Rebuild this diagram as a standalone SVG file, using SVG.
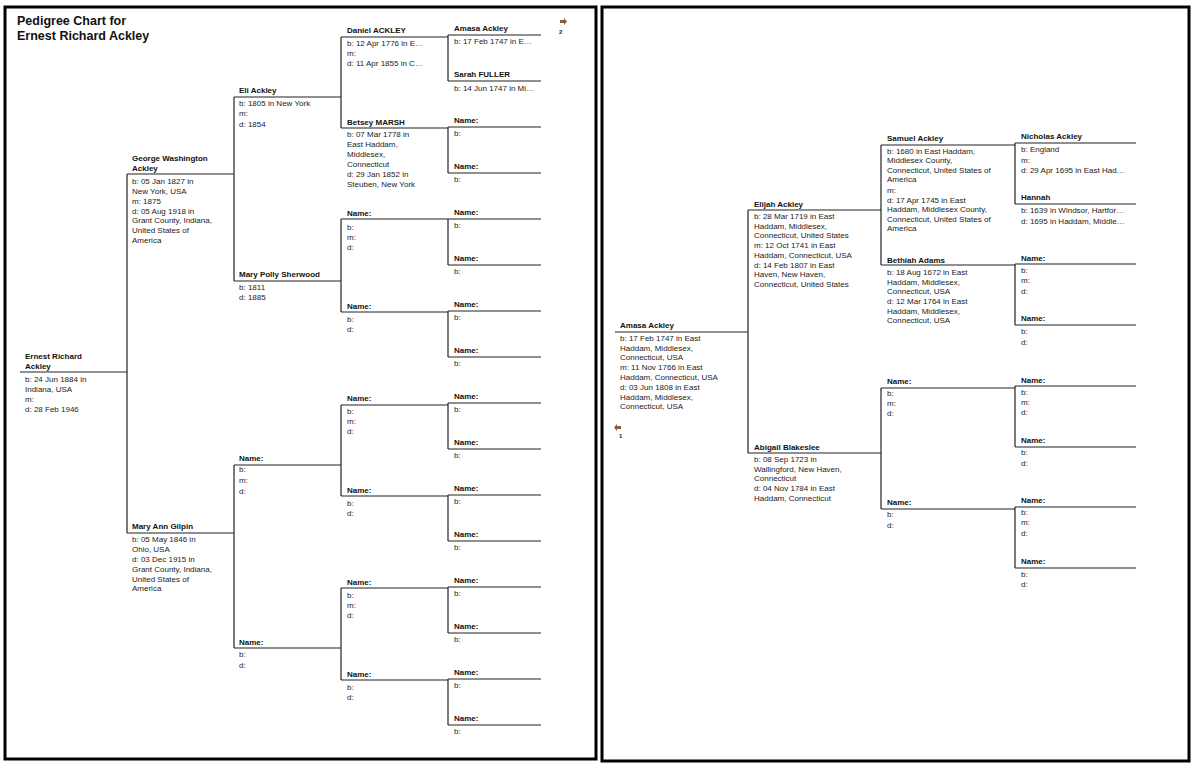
<svg xmlns="http://www.w3.org/2000/svg" width="1197" height="767" viewBox="0 0 1197 767">
<style>
text{font-family:"Liberation Sans",Arial,sans-serif;font-size:8px;fill:#222}
.n{font-weight:bold;fill:#111}
.t{font-weight:bold;font-size:12.5px;fill:#111}
.c line{stroke:#222;stroke-width:1.2}
.pg{fill:#fff;stroke:#000;stroke-width:3}
.ar{fill:#8a5a3a}
</style>
<rect width="1197" height="767" fill="#fff"/>
<rect class="pg" x="5" y="7" width="591" height="752"/>
<rect class="pg" x="602" y="7" width="587" height="754"/>
<text class="t" x="17" y="25">Pedigree Chart for</text>
<text class="t" x="17" y="40">Ernest Richard Ackley</text>
<path class="ar" d="M560 20h4v-2l3 3.5-3 3.5v-2h-4z"/><text x="559" y="34" style="font-size:6px;font-weight:bold">2</text>
<path class="ar" d="M621 426h-4v-2l-3 3.5 3 3.5v-2h4z"/><text x="619" y="438" style="font-size:6px;font-weight:bold">1</text>
<g class="c" id="connectors">
<line x1="20" y1="372" x2="127" y2="372"/><line x1="127" y1="174" x2="127" y2="533"/>
<line x1="127" y1="174" x2="234" y2="174"/><line x1="127" y1="533" x2="234" y2="533"/>
<line x1="234" y1="97" x2="234" y2="281"/><line x1="234" y1="465" x2="234" y2="648"/>
<line x1="234" y1="97" x2="341" y2="97"/><line x1="234" y1="281" x2="341" y2="281"/><line x1="234" y1="465" x2="341" y2="465"/><line x1="234" y1="648" x2="341" y2="648"/>
<line x1="341" y1="37" x2="341" y2="128"/><line x1="341" y1="219" x2="341" y2="312"/><line x1="341" y1="405" x2="341" y2="496"/><line x1="341" y1="588" x2="341" y2="680"/>
<line x1="341" y1="37" x2="448" y2="37"/><line x1="341" y1="128" x2="448" y2="128"/><line x1="341" y1="219" x2="448" y2="219"/><line x1="341" y1="312" x2="448" y2="312"/>
<line x1="341" y1="405" x2="448" y2="405"/><line x1="341" y1="496" x2="448" y2="496"/><line x1="341" y1="588" x2="448" y2="588"/><line x1="341" y1="680" x2="448" y2="680"/>
<line x1="448" y1="35" x2="448" y2="81"/><line x1="448" y1="127" x2="448" y2="173"/><line x1="448" y1="219" x2="448" y2="265"/><line x1="448" y1="311" x2="448" y2="357"/>
<line x1="448" y1="403" x2="448" y2="449"/><line x1="448" y1="495" x2="448" y2="541"/><line x1="448" y1="587" x2="448" y2="633"/><line x1="448" y1="679" x2="448" y2="725"/>
<line x1="448" y1="35" x2="541" y2="35"/><line x1="448" y1="81" x2="541" y2="81"/><line x1="448" y1="127" x2="541" y2="127"/><line x1="448" y1="173" x2="541" y2="173"/>
<line x1="448" y1="219" x2="541" y2="219"/><line x1="448" y1="265" x2="541" y2="265"/><line x1="448" y1="311" x2="541" y2="311"/><line x1="448" y1="357" x2="541" y2="357"/>
<line x1="448" y1="403" x2="541" y2="403"/><line x1="448" y1="449" x2="541" y2="449"/><line x1="448" y1="495" x2="541" y2="495"/><line x1="448" y1="541" x2="541" y2="541"/>
<line x1="448" y1="587" x2="541" y2="587"/><line x1="448" y1="633" x2="541" y2="633"/><line x1="448" y1="679" x2="541" y2="679"/><line x1="448" y1="725" x2="541" y2="725"/>
<line x1="615" y1="332" x2="748" y2="332"/><line x1="748" y1="210" x2="748" y2="453"/>
<line x1="748" y1="210" x2="881" y2="210"/><line x1="748" y1="453" x2="881" y2="453"/>
<line x1="881" y1="145" x2="881" y2="265"/><line x1="881" y1="388" x2="881" y2="509"/>
<line x1="881" y1="145" x2="1015" y2="145"/><line x1="881" y1="265" x2="1015" y2="265"/><line x1="881" y1="388" x2="1015" y2="388"/><line x1="881" y1="509" x2="1015" y2="509"/>
<line x1="1015" y1="143" x2="1015" y2="204"/><line x1="1015" y1="264" x2="1015" y2="325"/><line x1="1015" y1="386" x2="1015" y2="447"/><line x1="1015" y1="507" x2="1015" y2="568"/>
<line x1="1015" y1="143" x2="1136" y2="143"/><line x1="1015" y1="204" x2="1136" y2="204"/><line x1="1015" y1="264" x2="1136" y2="264"/><line x1="1015" y1="325" x2="1136" y2="325"/>
<line x1="1015" y1="386" x2="1136" y2="386"/><line x1="1015" y1="447" x2="1136" y2="447"/><line x1="1015" y1="507" x2="1136" y2="507"/><line x1="1015" y1="568" x2="1136" y2="568"/>
</g>
<g id="ernest"><text class="n" x="25" y="359">Ernest Richard</text><text class="n" x="25" y="369">Ackley</text><text x="25" y="382">b: 24 Jun 1884 in</text><text x="25" y="392">Indiana, USA</text><text x="25" y="402">m:</text><text x="25" y="412">d: 28 Feb 1946</text></g>
<g id="george"><text class="n" x="132" y="161">George Washington</text><text class="n" x="132" y="171">Ackley</text><text x="132" y="184">b: 05 Jan 1827 in</text><text x="132" y="194">New York, USA</text><text x="132" y="204">m: 1875</text><text x="132" y="214">d: 05 Aug 1918 in</text><text x="132" y="223">Grant County, Indiana,</text><text x="132" y="233">United States of</text><text x="132" y="243">America</text></g>
<g id="maryann"><text class="n" x="132" y="529">Mary Ann Gilpin</text><text x="132" y="542">b: 05 May 1846 in</text><text x="132" y="552">Ohio, USA</text><text x="132" y="562">d: 03 Dec 1915 in</text><text x="132" y="572">Grant County, Indiana,</text><text x="132" y="582">United States of</text><text x="132" y="591">America</text></g>
<g id="eli"><text class="n" x="239" y="93">Eli Ackley</text><text x="239" y="106">b: 1805 in New York</text><text x="239" y="116">m:</text><text x="239" y="127">d: 1854</text></g>
<g id="marypolly"><text class="n" x="239" y="277">Mary Polly Sherwood</text><text x="239" y="290">b: 1811</text><text x="239" y="300">d: 1885</text></g>
<g id="p3a"><text class="n" x="239" y="461">Name:</text><text x="239" y="472">b:</text><text x="239" y="483">m:</text><text x="239" y="494">d:</text></g>
<g id="p3b"><text class="n" x="239" y="645">Name:</text><text x="239" y="657">b:</text><text x="239" y="668">d:</text></g>
<g id="daniel"><text class="n" x="347" y="33">Daniel ACKLEY</text><text x="347" y="46">b: 12 Apr 1776 in E…</text><text x="347" y="56">m:</text><text x="347" y="66">d: 11 Apr 1855 in C…</text></g>
<g id="betsey"><text class="n" x="347" y="125">Betsey MARSH</text><text x="347" y="137">b: 07 Mar 1778 in</text><text x="347" y="147">East Haddam,</text><text x="347" y="157">Middlesex,</text><text x="347" y="167">Connecticut</text><text x="347" y="177">d: 29 Jan 1852 in</text><text x="347" y="187">Steuben, New York</text></g>
<g id="g4c"><text class="n" x="347" y="216">Name:</text><text x="347" y="230">b:</text><text x="347" y="240">m:</text><text x="347" y="250">d:</text></g>
<g id="g4d"><text class="n" x="347" y="309">Name:</text><text x="347" y="322">b:</text><text x="347" y="332">d:</text></g>
<g id="g4e"><text class="n" x="347" y="401">Name:</text><text x="347" y="414">b:</text><text x="347" y="424">m:</text><text x="347" y="434">d:</text></g>
<g id="g4f"><text class="n" x="347" y="493">Name:</text><text x="347" y="506">b:</text><text x="347" y="516">d:</text></g>
<g id="g4g"><text class="n" x="347" y="585">Name:</text><text x="347" y="598">b:</text><text x="347" y="608">m:</text><text x="347" y="618">d:</text></g>
<g id="g4h"><text class="n" x="347" y="677">Name:</text><text x="347" y="690">b:</text><text x="347" y="700">d:</text></g>
<g id="amasa5"><text class="n" x="454" y="31">Amasa Ackley</text><text x="454" y="44">b: 17 Feb 1747 in E…</text></g>
<g id="sarah"><text class="n" x="454" y="77">Sarah FULLER</text><text x="454" y="91">b: 14 Jun 1747 in Mi…</text></g>
<g id="g5c"><text class="n" x="454" y="123">Name:</text><text x="454" y="136">b:</text></g>
<g id="g5d"><text class="n" x="454" y="169">Name:</text><text x="454" y="182">b:</text></g>
<g id="g5e"><text class="n" x="454" y="215">Name:</text><text x="454" y="228">b:</text></g>
<g id="g5f"><text class="n" x="454" y="261">Name:</text><text x="454" y="274">b:</text></g>
<g id="g5g"><text class="n" x="454" y="307">Name:</text><text x="454" y="320">b:</text></g>
<g id="g5h"><text class="n" x="454" y="353">Name:</text><text x="454" y="366">b:</text></g>
<g id="g5i"><text class="n" x="454" y="399">Name:</text><text x="454" y="412">b:</text></g>
<g id="g5j"><text class="n" x="454" y="445">Name:</text><text x="454" y="458">b:</text></g>
<g id="g5k"><text class="n" x="454" y="491">Name:</text><text x="454" y="504">b:</text></g>
<g id="g5l"><text class="n" x="454" y="537">Name:</text><text x="454" y="550">b:</text></g>
<g id="g5m"><text class="n" x="454" y="583">Name:</text><text x="454" y="596">b:</text></g>
<g id="g5n"><text class="n" x="454" y="629">Name:</text><text x="454" y="642">b:</text></g>
<g id="g5o"><text class="n" x="454" y="675">Name:</text><text x="454" y="688">b:</text></g>
<g id="g5p"><text class="n" x="454" y="721">Name:</text><text x="454" y="734">b:</text></g>
<g id="amasa"><text class="n" x="620" y="328">Amasa Ackley</text><text x="620" y="341">b: 17 Feb 1747 in East</text><text x="620" y="351">Haddam, Middlesex,</text><text x="620" y="360">Connecticut, USA</text><text x="620" y="370">m: 11 Nov 1766 in East</text><text x="620" y="380">Haddam, Connecticut, USA</text><text x="620" y="390">d: 03 Jun 1808 in East</text><text x="620" y="400">Haddam, Middlesex,</text><text x="620" y="409">Connecticut, USA</text></g>
<g id="elijah"><text class="n" x="754" y="207">Elijah Ackley</text><text x="754" y="219">b: 28 Mar 1719 in East</text><text x="754" y="229">Haddam, Middlesex,</text><text x="754" y="238">Connecticut, United States</text><text x="754" y="248">m: 12 Oct 1741 in East</text><text x="754" y="258">Haddam, Connecticut, USA</text><text x="754" y="268">d: 14 Feb 1807 in East</text><text x="754" y="277">Haven, New Haven,</text><text x="754" y="287">Connecticut, United States</text></g>
<g id="abigail"><text class="n" x="754" y="450">Abigail Blakeslee</text><text x="754" y="462">b: 08 Sep 1723 in</text><text x="754" y="472">Wallingford, New Haven,</text><text x="754" y="481">Connecticut</text><text x="754" y="491">d: 04 Nov 1784 in East</text><text x="754" y="501">Haddam, Connecticut</text></g>
<g id="samuel"><text class="n" x="887" y="141">Samuel Ackley</text><text x="887" y="154">b: 1680 in East Haddam,</text><text x="887" y="163">Middlesex County,</text><text x="887" y="173">Connecticut, United States of</text><text x="887" y="182">America</text><text x="887" y="193">m:</text><text x="887" y="203">d: 17 Apr 1745 in East</text><text x="887" y="212">Haddam, Middlesex County,</text><text x="887" y="222">Connecticut, United States of</text><text x="887" y="231">America</text></g>
<g id="bethiah"><text class="n" x="887" y="263">Bethiah Adams</text><text x="887" y="275">b: 18 Aug 1672 in East</text><text x="887" y="285">Haddam, Middlesex,</text><text x="887" y="294">Connecticut, USA</text><text x="887" y="304">d: 12 Mar 1764 in East</text><text x="887" y="314">Haddam, Middlesex,</text><text x="887" y="323">Connecticut, USA</text></g>
<g id="r3c"><text class="n" x="887" y="384">Name:</text><text x="887" y="396">b:</text><text x="887" y="406">m:</text><text x="887" y="416">d:</text></g>
<g id="r3d"><text class="n" x="887" y="505">Name:</text><text x="887" y="517">b:</text><text x="887" y="528">d:</text></g>
<g id="nicholas"><text class="n" x="1021" y="139">Nicholas Ackley</text><text x="1021" y="152">b: England</text><text x="1021" y="163">m:</text><text x="1021" y="173">d: 29 Apr 1695 in East Had…</text></g>
<g id="hannah"><text class="n" x="1021" y="200">Hannah</text><text x="1021" y="213">b: 1639 in Windsor, Hartfor…</text><text x="1021" y="224">d: 1695 in Haddam, Middle…</text></g>
<g id="r4c"><text class="n" x="1021" y="261">Name:</text><text x="1021" y="273">b:</text><text x="1021" y="283">m:</text><text x="1021" y="294">d:</text></g>
<g id="r4d"><text class="n" x="1021" y="321">Name:</text><text x="1021" y="334">b:</text><text x="1021" y="345">d:</text></g>
<g id="r4e"><text class="n" x="1021" y="383">Name:</text><text x="1021" y="395">b:</text><text x="1021" y="405">m:</text><text x="1021" y="415">d:</text></g>
<g id="r4f"><text class="n" x="1021" y="443">Name:</text><text x="1021" y="455">b:</text><text x="1021" y="466">d:</text></g>
<g id="r4g"><text class="n" x="1021" y="503">Name:</text><text x="1021" y="515">b:</text><text x="1021" y="525">m:</text><text x="1021" y="536">d:</text></g>
<g id="r4h"><text class="n" x="1021" y="564">Name:</text><text x="1021" y="577">b:</text><text x="1021" y="587">d:</text></g>
</svg>
